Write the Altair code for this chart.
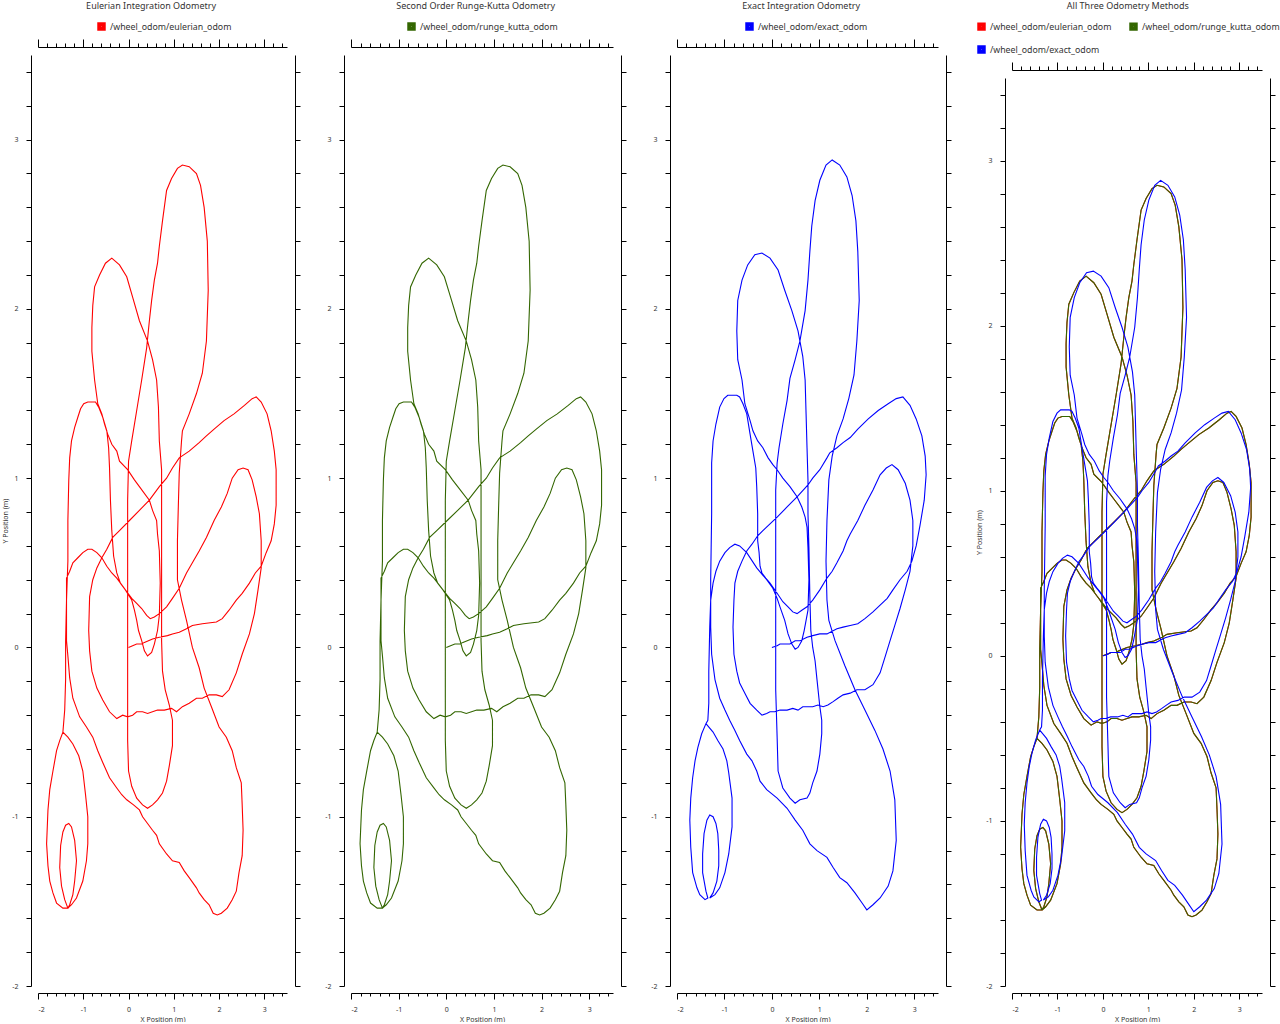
import altair as alt
import pandas as pd

# ---------------- data ----------------
SERIES = ["/wheel_odom/eulerian_odom", "/wheel_odom/runge_kutta_odom", "/wheel_odom/exact_odom"]
COLORS = ["#ff0000", "#336600", "#0000ff"]
TITLES = ["Eulerian Integration Odometry", "Second Order Runge-Kutta Odometry",
          "Exact Integration Odometry", "All Three Odometry Methods"]

EULER_X = [0.00, 0.09, 0.18, 0.29, 0.35, 0.53, 0.68, 0.86, 0.97, 1.12, 1.28, 1.41, 1.63, 1.94, 2.07, 2.22, 2.38, 2.51, 2.67, 2.80,
           2.93, 3.04, 3.15, 3.22, 3.26, 3.26, 3.26, 3.22, 3.15, 3.06, 2.93, 2.82, 2.73, 2.56, 2.33, 2.11, 1.89, 1.72, 1.56, 1.34,
           1.12, 0.97, 0.84, 0.68, 0.46, 0.24, 0.02, -0.20, -0.35, -0.48, -0.59, -0.70, -0.79, -0.86, -0.88, -0.86, -0.81, -0.70, -0.57, -0.42,
           -0.26, -0.13, -0.02, 0.09, 0.18, 0.31, 0.42, 0.53, 0.64, 0.79, 0.95, 1.06, 1.19, 1.34, 1.50, 1.63, 1.78, 1.94, 2.07, 2.22,
           2.38, 2.51, 2.67, 2.78, 2.86, 2.93, 2.93, 2.89, 2.82, 2.73, 2.64, 2.53, 2.42, 2.29, 2.18, 2.05, 1.89, 1.72, 1.56, 1.41,
           1.28, 1.12, 0.97, 0.84, 0.68, 0.57, 0.48,
           0.40, 0.29, 0.18, 0.07, -0.07, -0.18, -0.26, -0.33, -0.37, -0.40, -0.42, -0.44, -0.48, -0.57, -0.66, -0.73, -0.90, -0.99, -1.06, -1.12,
           -1.19, -1.26, -1.30, -1.32, -1.34, -1.34, -1.37, -1.37, -1.34, -1.30, -1.23, -1.08, -0.93, -0.79, -0.68, -0.57, -0.42, -0.26, -0.15, -0.04,
           0.11, 0.24, 0.31, 0.42, 0.53, 0.62, 0.68, 0.84, 0.97, 1.12, 1.23, 1.34, 1.50, 1.56, 1.67, 1.78, 1.87, 1.96, 2.05, 2.18,
           2.29, 2.38, 2.44, 2.51, 2.53, 2.51, 2.49, 2.38, 2.29, 2.16, 2.00, 1.83, 1.67, 1.56, 1.41, 1.28, 1.17, 1.08, 1.08, 1.10,
           1.12, 1.17, 1.19, 1.34, 1.50, 1.63, 1.72, 1.76, 1.74, 1.67, 1.59, 1.50, 1.34, 1.19, 1.08, 0.95, 0.84, 0.75, 0.68, 0.64,
           0.57, 0.51, 0.46, 0.40, 0.29, 0.18, 0.07, 0.00, -0.02, -0.02, -0.02, -0.02, -0.02, 0.00, 0.07, 0.18, 0.31, 0.42, 0.53, 0.64,
           0.75, 0.84, 0.90, 0.97, 0.97, 0.90, 0.81, 0.75, 0.73, 0.73, 0.73, 0.73, 0.73, 0.68, 0.66, 0.62, 0.53, 0.42, 0.24, 0.09,
           -0.04, -0.20, -0.37, -0.51, -0.64, -0.75, -0.79, -0.81, -0.81, -0.75, -0.68, -0.59, -0.53, -0.46, -0.37, -0.26, -0.20, -0.02, 0.13, 0.24,
           0.46, 0.53, 0.62, 0.64, 0.68, 0.70, 0.68, 0.64, 0.57, 0.51, 0.42, 0.35, 0.29, 0.22, 0.18, 0.13, 0.07, 0.00, -0.07, -0.15,
           -0.26, -0.37, -0.48, -0.59, -0.70, -0.81, -0.90, -1.01, -1.12, -1.23, -1.30, -1.37, -1.37, -1.39, -1.39, -1.41, -1.45,
           -1.52, -1.59, -1.67, -1.74, -1.78, -1.81, -1.78, -1.74, -1.67, -1.59, -1.45, -1.34, -1.41, -1.48, -1.52, -1.50, -1.45, -1.39, -1.32, -1.26,
           -1.19, -1.15, -1.19, -1.23, -1.30, -1.34, -1.26, -1.15, -1.01, -0.93, -0.90, -0.90, -0.95, -1.01, -1.10, -1.23, -1.34, -1.45]
EULER_Y = [0.00, 0.01, 0.02, 0.02, 0.03, 0.05, 0.06, 0.07, 0.08, 0.09, 0.11, 0.13, 0.14, 0.15, 0.17, 0.22, 0.28, 0.32, 0.38, 0.44,
           0.48, 0.56, 0.63, 0.73, 0.84, 0.93, 1.05, 1.16, 1.28, 1.38, 1.45, 1.48, 1.47, 1.43, 1.38, 1.34, 1.29, 1.25, 1.21, 1.16,
           1.12, 1.06, 1.00, 0.95, 0.87, 0.81, 0.75, 0.69, 0.65, 0.58, 0.53, 0.47, 0.40, 0.30, 0.10, -0.02, -0.14, -0.24, -0.31, -0.38,
           -0.42, -0.40, -0.41, -0.40, -0.38, -0.38, -0.39, -0.38, -0.37, -0.37, -0.36, -0.38, -0.35, -0.33, -0.30, -0.30, -0.28, -0.28, -0.29, -0.25,
           -0.15, -0.04, 0.08, 0.20, 0.34, 0.47, 0.63, 0.79, 0.89, 0.99, 1.05, 1.06, 1.05, 1.00, 0.91, 0.83, 0.75, 0.65, 0.57, 0.50,
           0.44, 0.35, 0.29, 0.24, 0.20, 0.18, 0.17,
           0.19, 0.23, 0.26, 0.29, 0.34, 0.38, 0.44, 0.54, 0.69, 0.87, 1.06, 1.18, 1.28, 1.36, 1.42, 1.45, 1.45, 1.44, 1.41, 1.36,
           1.30, 1.22, 1.12, 0.99, 0.75, 0.51, 0.28, 0.04, -0.05, -0.18, -0.30, -0.41, -0.47, -0.53, -0.61, -0.68, -0.77, -0.83, -0.87, -0.90,
           -0.93, -0.96, -1.00, -1.04, -1.08, -1.11, -1.16, -1.22, -1.26, -1.27, -1.32, -1.36, -1.42, -1.45, -1.49, -1.52, -1.57, -1.58, -1.57, -1.54,
           -1.49, -1.44, -1.33, -1.23, -1.08, -0.93, -0.80, -0.71, -0.61, -0.53, -0.47, -0.35, -0.24, -0.12, 0.00, 0.16, 0.28, 0.40, 0.63, 0.84,
           1.03, 1.22, 1.28, 1.38, 1.50, 1.62, 1.81, 2.11, 2.40, 2.60, 2.73, 2.80, 2.84, 2.85, 2.83, 2.77, 2.70, 2.52, 2.37, 2.27,
           2.17, 2.05, 1.93, 1.77, 1.58, 1.40, 1.22, 1.10, 0.87, 0.51, 0.16, -0.19, -0.55, -0.73, -0.82, -0.89, -0.93, -0.95, -0.93, -0.90,
           -0.86, -0.79, -0.70, -0.58, -0.43, -0.34, -0.25, -0.14, 0.04, 0.28, 0.51, 0.75, 1.05, 1.22, 1.42, 1.58, 1.70, 1.81, 1.93, 2.07,
           2.19, 2.26, 2.30, 2.27, 2.20, 2.13, 2.02, 1.89, 1.75, 1.58, 1.44, 1.38, 1.32, 1.26, 1.20, 1.16, 1.10, 1.05, 0.99, 0.95,
           0.87, 0.81, 0.75, 0.67, 0.57, 0.38, 0.19, 0.10, 0.02, -0.03, -0.05, -0.02, 0.04, 0.10, 0.16, 0.22, 0.28, 0.31, 0.34, 0.37,
           0.41, 0.44, 0.48, 0.53, 0.56, 0.58, 0.58, 0.56, 0.53, 0.50, 0.45, 0.41, 0.28, 0.04, -0.19, -0.37, -0.50,
           -0.55, -0.61, -0.73, -0.84, -0.96, -1.16, -1.29, -1.38, -1.45, -1.51, -1.54, -1.54, -1.49, -1.41, -1.30, -1.17, -1.09, -1.05, -1.04, -1.06,
           -1.14, -1.26, -1.38, -1.46, -1.52, -1.54, -1.52, -1.48, -1.38, -1.26, -1.16, -1.00, -0.87, -0.73, -0.64, -0.57, -0.53, -0.50]

# Runge-Kutta trace reads the same as the Eulerian one in the picture
RK_X = list(EULER_X)
RK_Y = list(EULER_Y)

EXACT_X = [0.00, 0.11, 0.17, 0.38, 0.49, 0.59, 0.74, 0.86, 1.01, 1.16, 1.37, 1.50, 1.65, 1.81, 1.96, 2.13, 2.28, 2.43, 2.55, 2.70,
           2.85, 2.95, 3.04, 3.12, 3.21, 3.25, 3.23, 3.16, 3.04, 2.91, 2.76, 2.62, 2.45, 2.24, 2.03, 1.81, 1.65, 1.50, 1.37, 1.22,
           1.16, 1.01, 0.86, 0.76, 0.53, 0.32, 0.11, -0.04, -0.19, -0.30, -0.42, -0.53, -0.63, -0.72, -0.78, -0.80, -0.82, -0.80, -0.74, -0.68,
           -0.57, -0.46, -0.32, -0.21, -0.11, -0.04, 0.06, 0.17, 0.32, 0.44, 0.55, 0.65, 0.74, 0.86, 0.97, 1.08, 1.18, 1.29, 1.39, 1.50,
           1.65, 1.79, 1.96, 2.13, 2.28, 2.38, 2.49, 2.59, 2.70, 2.81, 2.91, 2.97, 2.97, 2.91, 2.81, 2.66, 2.53, 2.41, 2.28, 2.13,
           1.96, 1.81, 1.65, 1.58, 1.50, 1.37, 1.27, 1.16, 1.01, 0.86, 0.74, 0.63, 0.53,
           0.44, 0.34, 0.23, 0.11, -0.04, -0.13, -0.21, -0.25, -0.27, -0.30, -0.30, -0.32, -0.34, -0.40, -0.46, -0.53, -0.61, -0.68, -0.74, -0.93,
           -1.01, -1.10, -1.18, -1.24, -1.27, -1.27, -1.29, -1.29, -1.27, -1.20, -1.10, -0.99, -0.89, -0.78, -0.68, -0.53, -0.42, -0.32, -0.25, -0.11,
           0.11, 0.32, 0.49, 0.65, 0.80, 0.95, 1.16, 1.29, 1.43, 1.58, 1.75, 1.90, 2.00, 2.13, 2.28, 2.45, 2.55, 2.62, 2.59, 2.49,
           2.34, 2.17, 1.96, 1.75, 1.54, 1.33, 1.20, 1.16, 1.14, 1.16, 1.20, 1.27, 1.37, 1.50, 1.62, 1.73, 1.79, 1.84, 1.81, 1.77,
           1.69, 1.58, 1.43, 1.27, 1.14, 1.01, 0.91, 0.84, 0.80, 0.76, 0.70, 0.59, 0.49, 0.38, 0.32, 0.23, 0.15, 0.11, 0.08, 0.08,
           0.08, 0.08, 0.11, 0.13, 0.23, 0.38, 0.49, 0.59, 0.74, 0.80, 0.86, 0.95, 1.01, 1.05, 1.05, 1.01, 0.95, 0.91, 0.86, 0.82,
           0.80, 0.78, 0.76, 0.76, 0.74, 0.72, 0.70, 0.65, 0.55, 0.42, 0.27, 0.13, -0.04, -0.21, -0.36, -0.51, -0.63, -0.72, -0.74, -0.72,
           -0.63, -0.57, -0.46, -0.40, -0.30, -0.19, -0.08, 0.02, 0.11, 0.23, 0.38, 0.53, 0.63, 0.70, 0.74, 0.76, 0.78, 0.76, 0.72, 0.68,
           0.63, 0.55, 0.49, 0.42, 0.34, 0.27, 0.17, 0.11, 0.02, -0.11, -0.32, -0.53, -0.68, -0.78, -0.89, -0.99, -1.10, -1.18, -1.24, -1.29,
           -1.31, -1.33, -1.33, -1.35, -1.39,
           -1.48, -1.56, -1.62, -1.67, -1.71, -1.73, -1.71, -1.67, -1.58, -1.52, -1.41, -1.35, -1.39, -1.46, -1.46, -1.43, -1.37, -1.31, -1.24, -1.18,
           -1.14, -1.12, -1.12, -1.16, -1.24, -1.31, -1.20, -1.10, -0.99, -0.91, -0.84, -0.84, -0.91, -0.95, -1.03, -1.14, -1.24, -1.39]
EXACT_Y = [0.00, 0.01, 0.02, 0.02, 0.04, 0.04, 0.06, 0.07, 0.08, 0.08, 0.11, 0.12, 0.13, 0.14, 0.17, 0.21, 0.25, 0.29, 0.34, 0.40,
           0.45, 0.51, 0.60, 0.72, 0.87, 1.02, 1.13, 1.25, 1.35, 1.43, 1.48, 1.47, 1.44, 1.40, 1.35, 1.29, 1.24, 1.21, 1.18, 1.15,
           1.12, 1.05, 1.00, 0.96, 0.89, 0.83, 0.77, 0.73, 0.69, 0.66, 0.61, 0.57, 0.51, 0.45, 0.38, 0.28, 0.12, -0.04, -0.14, -0.21,
           -0.27, -0.33, -0.37, -0.40, -0.39, -0.38, -0.38, -0.37, -0.37, -0.36, -0.37, -0.35, -0.35, -0.35, -0.34, -0.35, -0.34, -0.32, -0.30, -0.28,
           -0.27, -0.25, -0.25, -0.22, -0.15, -0.06, 0.04, 0.13, 0.23, 0.34, 0.45, 0.60, 0.75, 0.87, 0.97, 1.05, 1.08, 1.06, 1.02, 0.93,
           0.84, 0.75, 0.67, 0.63, 0.57, 0.50, 0.45, 0.41, 0.34, 0.28, 0.24, 0.22, 0.20,
           0.21, 0.24, 0.27, 0.32, 0.38, 0.41, 0.44, 0.48, 0.56, 0.63, 0.79, 0.95, 1.06, 1.16, 1.26, 1.38, 1.44, 1.48, 1.49, 1.49,
           1.47, 1.42, 1.32, 1.22, 1.09, 0.79, 0.40, 0.12, -0.04, -0.19, -0.30, -0.37, -0.43, -0.49, -0.55, -0.63, -0.67, -0.73, -0.79, -0.84,
           -0.89, -0.95, -1.02, -1.08, -1.16, -1.20, -1.24, -1.30, -1.36, -1.39, -1.45, -1.51, -1.55, -1.52, -1.48, -1.41, -1.32, -1.14, -0.90, -0.73,
           -0.60, -0.49, -0.37, -0.25, -0.11, 0.04, 0.16, 0.28, 0.51, 0.75, 0.99, 1.13, 1.25, 1.35, 1.47, 1.61, 1.81, 2.05, 2.34, 2.52,
           2.67, 2.78, 2.85, 2.88, 2.85, 2.76, 2.64, 2.49, 2.34, 2.17, 1.99, 1.81, 1.70, 1.59, 1.46, 1.32, 1.18, 1.09, 0.93, 0.57,
           0.16, -0.25, -0.53, -0.73, -0.83, -0.89, -0.92, -0.90, -0.89, -0.86, -0.80, -0.73, -0.63, -0.51, -0.43, -0.35, -0.19, -0.08, 0.00, 0.10,
           0.30, 0.59, 0.79, 0.99, 1.18, 1.38, 1.58, 1.72, 1.87, 1.99, 2.11, 2.23, 2.30, 2.33, 2.32, 2.26, 2.17, 2.05, 1.87, 1.70,
           1.58, 1.44, 1.34, 1.28, 1.22, 1.18, 1.12, 1.08, 1.05, 1.00, 0.95, 0.89, 0.83, 0.77, 0.71, 0.59, 0.40, 0.22, 0.16, 0.10,
           0.04, 0.00, -0.01, 0.02, 0.08, 0.16, 0.24, 0.29, 0.35, 0.40, 0.47, 0.56, 0.60, 0.61, 0.59, 0.56, 0.51, 0.45, 0.38, 0.28,
           0.12, -0.14, -0.33, -0.43, -0.45,
           -0.51, -0.59, -0.67, -0.77, -0.89, -1.02, -1.18, -1.33, -1.42, -1.46, -1.49, -1.48, -1.44, -1.33, -1.22, -1.10, -1.02, -0.99, -1.00, -1.04,
           -1.10, -1.20, -1.29, -1.38, -1.45, -1.48, -1.46, -1.42, -1.33, -1.22, -1.06, -0.89, -0.74, -0.67, -0.60, -0.55, -0.50, -0.45]

TICKS = [round(-2 + 0.2 * i, 1) for i in range(28)]  # -2.0 ... 3.4
DOMAIN = [-2, 3.5]

# ---------------- build table ----------------
rows = []
for name, xs, ys in [(SERIES[0], EULER_X, EULER_Y), (SERIES[1], RK_X, RK_Y), (SERIES[2], EXACT_X, EXACT_Y)]:
    for i, (a, b) in enumerate(zip(xs, ys)):
        rows.append({"x": a, "y": b, "series": name, "i": i})
df = pd.DataFrame(rows)

FONT = "Noto Sans"
TXT = "#333333"
MAJOR = "abs(datum.value - round(datum.value)) < 0.01"
LABEL = MAJOR + " ? '' + round(datum.value) : ''"
H = 931


def panel(idx, names, legend_order, width, top_gap, ytitle, lx, ly, cols):
    d = df[df.series.isin(names)]
    cols_range = [COLORS[SERIES.index(n)] for n in names]
    xs = alt.Scale(domain=DOMAIN, nice=False, zero=False)
    ys = alt.Scale(domain=DOMAIN, nice=False, zero=False, range=[H, top_gap])
    bottom = alt.Axis(orient="bottom", values=TICKS, offset=7, labelExpr=LABEL, labelOverlap=False,
                      tickSize={"condition": {"test": MAJOR, "value": 6}, "value": 3},
                      labelPadding=6, title="X Position (m)", titlePadding=3)
    left_kw = dict(orient="left", values=TICKS, offset=7, labelExpr=LABEL, labelOverlap=False,
                   tickSize=5, labelPadding=8)
    if ytitle:
        left = alt.Axis(title="Y Position (m)", titlePadding=3, **left_kw)
    else:
        left = alt.Axis(title=None, **left_kw)
    top = alt.Axis(orient="top", values=TICKS, offset=8 - top_gap, labels=False, title=None,
                   tickSize={"condition": {"test": MAJOR, "value": 8}, "value": 4})
    right = alt.Axis(orient="right", values=TICKS, offset=8, labels=False, title=None, tickSize=5)

    legend = alt.Legend(orient="none", legendX=lx, legendY=ly, title=None, symbolType="square",
                        symbolSize=20, symbolStrokeWidth=4, columns=cols, rowPadding=2,
                        columnPadding=11, labelFontSize=8.8, labelFont=FONT, labelColor=TXT,
                        labelOffset=4, values=legend_order)
    main = alt.Chart(d).mark_line(strokeWidth=1.1).encode(
        x=alt.X("x:Q", scale=xs, axis=bottom),
        y=alt.Y("y:Q", scale=ys, axis=left),
        color=alt.Color("series:N", sort=names, scale=alt.Scale(domain=names, range=cols_range), legend=legend),
        order=alt.Order("i:Q"),
    )
    ghost = alt.Chart(d).mark_point(opacity=0).encode(
        x=alt.X("x:Q", scale=xs, axis=top),
        y=alt.Y("y:Q", scale=ys, axis=right),
    )
    return alt.layer(main, ghost).resolve_axis(x="independent", y="independent").properties(
        width=width, height=H,
        title=alt.TitleParams(TITLES[idx], anchor="middle", frame="bounds", fontSize=9, fontWeight="normal",
                              font=FONT, color=TXT, offset=11),
    )


p1 = panel(0, [SERIES[0]], [SERIES[0]], 249, 0, True, 59, -33, 1)
p2 = panel(1, [SERIES[1]], [SERIES[1]], 262, 0, False, 56, -33, 1)
p3 = panel(2, [SERIES[2]], [SERIES[2]], 261, 0, False, 68, -33, 1)
# legend fills column by column: euler / exact in the first column, runge-kutta in the second
p4 = panel(3, SERIES, [SERIES[0], SERIES[2], SERIES[1]], 250, 23, True, -35, -33, 2)

chart = alt.hconcat(p1, p2, p3, p4, spacing=23).resolve_scale(color="independent").properties(
    padding={"left": 1, "top": 2, "right": 0, "bottom": 0}
).configure_view(stroke=None).configure_axis(
    grid=False, domainColor="black", tickColor="black", domainWidth=1, tickWidth=1,
    labelFont=FONT, labelFontSize=7, labelColor=TXT,
    titleFont=FONT, titleFontSize=7, titleFontWeight="normal", titleColor=TXT,
)

chart.save("out.html", embed_options={"renderer": "svg", "actions": False})
